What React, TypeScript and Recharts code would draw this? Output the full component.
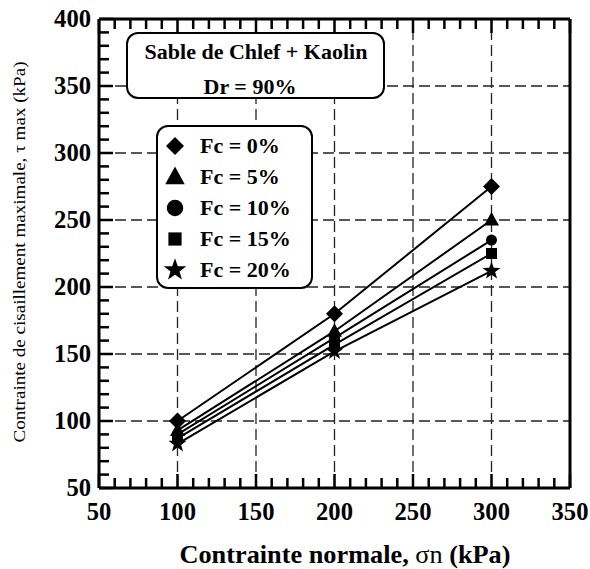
import React from 'react';
import { LineChart, Line, XAxis, YAxis, ReferenceLine, Legend } from 'recharts';

// normal stress (kPa) and max shear stress (kPa) per fines content
const sigmaN = [100, 200, 300];
const fc0 = [100, 180, 275];
const fc5 = [93, 167, 250];
const fc10 = [90, 162, 235];
const fc15 = [87, 157, 225];
const fc20 = [83, 152, 212];

const seriesNames = ['Fc = 0%', 'Fc = 5%', 'Fc = 10%', 'Fc = 15%', 'Fc = 20%'];
const seriesKeys = ['fc0', 'fc5', 'fc10', 'fc15', 'fc20'];
const seriesShapes = ['diamond', 'triangle', 'circle', 'square', 'star'];

const xTicks = [50, 60, 70, 80, 90, 100, 110, 120, 130, 140, 150, 160, 170, 180, 190, 200,
    210, 220, 230, 240, 250, 260, 270, 280, 290, 300, 310, 320, 330, 340, 350];
const yTicks = [50, 60, 70, 80, 90, 100, 110, 120, 130, 140, 150, 160, 170, 180, 190, 200,
    210, 220, 230, 240, 250, 260, 270, 280, 290, 300, 310, 320, 330, 340, 350, 360, 370, 380, 390, 400];
const xGrid = [100, 150, 200, 250, 300];
const yGrid = [100, 150, 200, 250, 300, 350];

const boxTitle = 'Sable de Chlef + Kaolin';
const boxSubtitle = 'Dr = 90%';

const data = sigmaN.map((s, i) => ({
    sigma: s,
    fc0: fc0[i],
    fc5: fc5[i],
    fc10: fc10[i],
    fc15: fc15[i],
    fc20: fc20[i],
}));

const serif = "'Liberation Serif', 'Times New Roman', serif";
const bold: React.CSSProperties = { fontFamily: serif, fontWeight: 700 };
const plain: React.CSSProperties = { fontFamily: serif, fontWeight: 400 };

const starPath = (cx: number, cy: number, R: number) => {
    const r = R * 0.4;
    let d = '';
    for (let k = 0; k < 10; k++) {
        const rad = k % 2 === 0 ? R : r;
        const a = -Math.PI / 2 + (k * Math.PI) / 5;
        d += (k === 0 ? 'M' : 'L') + (cx + rad * Math.cos(a)).toFixed(2) + ',' + (cy + rad * Math.sin(a)).toFixed(2);
    }
    return d + 'Z';
};

const Marker = ({ shape, cx, cy, s = 1 }: { shape: string; cx: number; cy: number; s?: number }) => {
    if (cx == null || cy == null) return null;
    switch (shape) {
        case 'diamond': {
            const h = 8.5 * s;
            return <path d={`M${cx},${cy - h}L${cx + h},${cy}L${cx},${cy + h}L${cx - h},${cy}Z`} fill="#000" />;
        }
        case 'triangle': {
            const w = 7.5 * s;
            return <path d={`M${cx},${cy - 8 * s}L${cx + w},${cy + 5.5 * s}L${cx - w},${cy + 5.5 * s}Z`} fill="#000" />;
        }
        case 'circle':
            return <circle cx={cx} cy={cy} r={5.5 * s} fill="#000" />;
        case 'square': {
            const h = 5.5 * s;
            return <rect x={cx - h} y={cy - h} width={2 * h} height={2 * h} fill="#000" />;
        }
        default:
            return <path d={starPath(cx, cy, 9.5 * s)} fill="#000" />;
    }
};

const legendScale: Record<string, number> = { diamond: 1.06, triangle: 1.3, circle: 1.5, square: 1.2, star: 1.25 };

const XTick = ({ x, y, payload, top }: any) => {
    const major = payload.value % 50 === 0;
    const len = major ? 14 : 10;
    const label = String(payload.value);
    return (
        <g>
            <line x1={x} x2={x} y1={y} y2={top ? y + len : y - len} stroke="#000" strokeWidth={2.5} />
            {!top && major && (
                <text x={x} y={y + 32} textAnchor="middle" style={{ ...bold, fontSize: 25 }} fill="#000"
                    textLength={label.length * 12.3} lengthAdjust="spacingAndGlyphs">
                    {label}
                </text>
            )}
        </g>
    );
};

const YTick = ({ x, y, payload, right }: any) => {
    const major = payload.value % 50 === 0;
    const len = major ? 14 : 10;
    const label = String(payload.value);
    return (
        <g>
            <line x1={x} x2={right ? x - len : x + len} y1={y} y2={y} stroke="#000" strokeWidth={2.5} />
            {!right && major && (
                <text x={x - 8} y={y + 8} textAnchor="end" style={{ ...bold, fontSize: 25 }} fill="#000"
                    textLength={label.length * 12.3} lengthAdjust="spacingAndGlyphs">
                    {label}
                </text>
            )}
        </g>
    );
};

const XTitle = () => (
    <text x={345} y={563} textAnchor="middle" style={{ ...bold, fontSize: 26 }} fill="#000"
        textLength={331} lengthAdjust="spacingAndGlyphs">
        Contrainte normale, <tspan style={plain}>σn</tspan> (kPa)
    </text>
);

const YTitle = () => (
    <text x={25} y={252} transform="rotate(-90 25 252)" textAnchor="middle" style={{ ...plain, fontSize: 17.5 }} fill="#000"
        textLength={381} lengthAdjust="spacingAndGlyphs">
        Contrainte de cisaillement maximale, τ max (kPa)
    </text>
);

const LegendBox = ({ payload }: any) => {
    const items = [...(payload || [])].sort((a: any, b: any) => seriesNames.indexOf(a.value) - seriesNames.indexOf(b.value));
    return (
        <svg width={590} height={569} style={{ position: 'absolute', left: 0, top: 0, pointerEvents: 'none', overflow: 'visible' }}>
            <XTitle />
            <YTitle />
            <rect x={127} y={33} width={257} height={65} rx={11} fill="#fff" stroke="#000" strokeWidth={2} />
            <text x={256} y={59} textAnchor="middle" style={{ ...bold, fontSize: 22 }} fill="#000">
                {boxTitle}
            </text>
            <text x={250} y={94} textAnchor="middle" style={{ ...bold, fontSize: 22 }} fill="#000">
                {boxSubtitle}
            </text>
            <rect x={157} y={126} width={155} height={162} rx={11} fill="#fff" stroke="#000" strokeWidth={2} />
            {items.map((p: any, i: number) => {
                const cy = 146 + i * 31;
                return (
                    <g key={p.value}>
                        <Marker shape={p.type} cx={175} cy={cy} s={legendScale[p.type] || 1} />
                        <text x={200} y={cy + 7} style={{ ...bold, fontSize: 22 }} fill="#000">
                            {p.value}
                        </text>
                    </g>
                );
            })}
        </svg>
    );
};

export default function App() {
    return (
        <div style={{ position: 'absolute', left: 0, top: 0, width: 590, height: 569, background: '#fff' }}>
            <LineChart width={590} height={569} data={data} margin={{ top: 18, right: 19, bottom: 80, left: 98 }}>
                {xGrid.map((v) => (
                    <ReferenceLine key={'gx' + v} x={v} xAxisId="b" yAxisId="l" stroke="#222" strokeWidth={1.3} strokeDasharray="11 5" />
                ))}
                {yGrid.map((v) => (
                    <ReferenceLine key={'gy' + v} y={v} xAxisId="b" yAxisId="l" stroke="#222" strokeWidth={1.3} strokeDasharray="11 5" />
                ))}
                <XAxis xAxisId="b" dataKey="sigma" type="number" domain={[50, 350]} ticks={xTicks} interval={0}
                    height={1} tickSize={0} tickMargin={0} tickLine={false}
                    axisLine={{ stroke: '#000', strokeWidth: 3 }} tick={<XTick />} />
                <XAxis xAxisId="t" orientation="top" dataKey="sigma" type="number" domain={[50, 350]} ticks={xTicks} interval={0}
                    height={1} tickSize={0} tickMargin={0} tickLine={false}
                    axisLine={{ stroke: '#000', strokeWidth: 3 }} tick={<XTick top />} />
                <YAxis yAxisId="l" type="number" domain={[50, 400]} ticks={yTicks} interval={0}
                    width={1} tickSize={0} tickMargin={0} tickLine={false}
                    axisLine={{ stroke: '#000', strokeWidth: 3 }} tick={<YTick />} />
                <YAxis yAxisId="r" orientation="right" type="number" domain={[50, 400]} ticks={yTicks} interval={0}
                    width={1} tickSize={0} tickMargin={0} tickLine={false}
                    axisLine={{ stroke: '#000', strokeWidth: 3 }} tick={<YTick right />} />
                {seriesKeys.map((k, i) => (
                    <Line key={k} xAxisId="b" yAxisId="l" type="linear" dataKey={k} name={seriesNames[i]}
                        stroke="#000" strokeWidth={2} legendType={seriesShapes[i] as any} isAnimationActive={false}
                        dot={(p: any) => <Marker key={k + p.index} shape={seriesShapes[i]} cx={p.cx} cy={p.cy} />}
                        activeDot={false} />
                ))}
                <Legend content={<LegendBox />}
                    wrapperStyle={{ position: 'absolute', left: 0, top: 0, width: 0, height: 0, margin: 0, padding: 0, overflow: 'visible' }} />
            </LineChart>
        </div>
    );
}
